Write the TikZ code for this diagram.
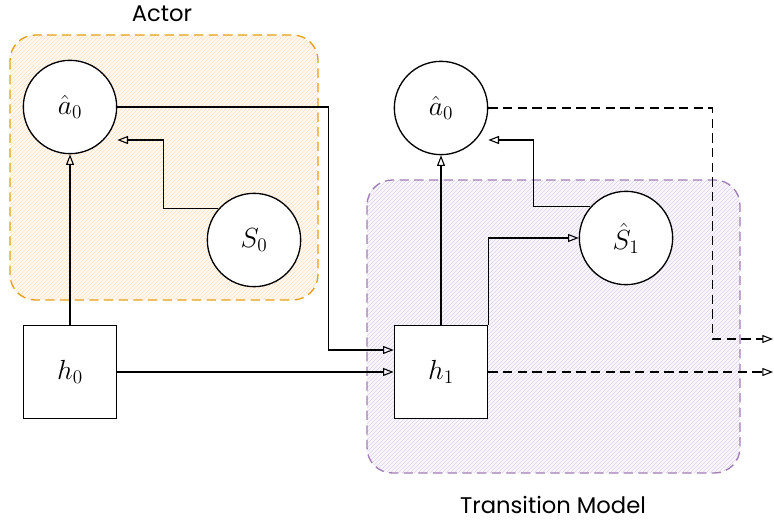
\documentclass[tikz,border=0pt]{standalone}
\usepackage{fontspec}
\newfontfamily\handfont{Poppins}
\usetikzlibrary{arrows.meta,patterns}
\definecolor{actorc}{RGB}{228,160,20}
\definecolor{actorfill}{RGB}{255,248,240}
\definecolor{actorhatch}{RGB}{255,224,192}
\definecolor{tmc}{RGB}{160,125,180}
\definecolor{tmfill}{RGB}{249,246,252}
\definecolor{tmhatch}{RGB}{222,210,236}
\begin{document}
\begin{tikzpicture}[x=0.75pt,y=-0.75pt,
  groupbox/.style={dash pattern=on 7pt off 4pt, line width=1pt, rounded corners=19pt},
  actorbox/.style={groupbox, draw=actorc, preaction={fill=actorfill}, pattern=north east lines, pattern color=actorhatch},
  tmbox/.style={groupbox, draw=tmc, preaction={fill=tmfill}, pattern=north east lines, pattern color=tmhatch},
  grouplabel/.style={font=\handfont\fontsize{17}{20}\selectfont},
  circnode/.style={circle, draw, line width=1pt, fill=white, minimum size=70pt, inner sep=0pt, font=\huge},
  boxnode/.style={rectangle, draw, line width=1pt, fill=white, minimum size=70pt, inner sep=0pt, font=\huge},
  arr/.style={-{Triangle[open,length=8pt,width=6pt]}, line width=0.8pt},
  dasharr/.style={arr, dash pattern=on 7pt off 4pt}
]
\useasboundingbox (0,0) rectangle (774,523);
% groups
\draw[actorbox] (10,35) rectangle (318,300);
\draw[tmbox] (367,180) rectangle (740,473);
\node[grouplabel] (actorlbl) at (162,14) {Actor};
\node[grouplabel] (tmlbl) at (553,505) {Transition Model};
% nodes
\node[circnode] (a0) at (70,107) {$\hat{a}_0$};
\node[circnode] (S0) at (254,240) {$S_0$};
\node[boxnode] (h0) at (70,372) {$h_0$};
\node[boxnode] (h1) at (441,372) {$h_1$};
\node[circnode] (a1) at (441,108) {$\hat{a}_0$};
\node[circnode] (S1) at (626,238) {$\hat{S}_1$};
\coordinate (out1) at (773,339);
\coordinate (out2) at (773,372);
% connectors
\draw[arr] (h0) -- (a0);
\draw[arr] (S0.139) -- ++(-55,0) |- (a0.east |- 0,140);
\draw[arr] (a0.east) -- ++(211,0) |- (h1.west |- 0,350);
\draw[arr] (h0) -- (h1);
\draw[arr] (h1) -- (a1);
\draw[arr] (h1.north east) |- (S1.west);
\draw[arr] (S1.139) -- ++(-57,0) |- (a1.east |- 0,140);
\draw[dasharr] (a1.east) -- ++(224,0) |- (out1);
\draw[dasharr] (h1) -- (out2);
\end{tikzpicture}
\end{document}
